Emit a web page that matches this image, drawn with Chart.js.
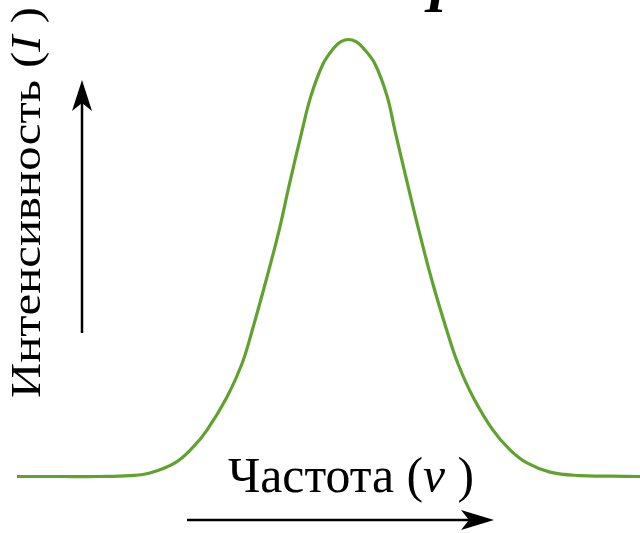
<!DOCTYPE html>
<html>
<head>
<meta charset="utf-8">
<script src="https://cdn.jsdelivr.net/npm/chart.js@4/dist/chart.umd.min.js"></script>
<style>
  html, body { margin: 0; padding: 0; background: #fff; }
  #wrap { width: 640px; height: 533px; position: relative; }
</style>
</head>
<body>
<div id="wrap"><canvas id="c"></canvas></div>
<script>
// Frequency (arbitrary units) and intensity (normalised)
const frequency = [2.66, 9.38, 15.63, 20.31, 23.44, 27.34, 30.16, 32.34, 35.47, 37.81, 39.38, 41.56, 43.59, 45.16, 47.19, 48.59, 50.47, 52.19, 53.28, 54.45, 55.63, 56.72, 58.59, 60.47, 61.72, 63.75, 65.47, 67.5, 69.84, 71.56, 73.91, 77.03, 79.69, 82.34, 85.94, 90.63, 95.31, 100];
const intensity = [0.0, 0.0, 0.0, 0.002, 0.008, 0.031, 0.067, 0.106, 0.182, 0.258, 0.333, 0.448, 0.562, 0.665, 0.791, 0.871, 0.944, 0.981, 0.995, 1.0, 0.995, 0.981, 0.944, 0.871, 0.791, 0.665, 0.562, 0.448, 0.333, 0.258, 0.182, 0.106, 0.061, 0.031, 0.010, 0.002, 0.001, 0.0];
const xLabel = ['Частота (', 'ν', ' )'];
const yLabel = ['Интенсивность (', 'I', ' )'];
const topGlyph = 'I';

const points = frequency.map((f, i) => ({ x: f, y: intensity[i] }));
const SERIF = '"Liberation Serif", "Times New Roman", "DejaVu Serif", serif';

const annotate = {
  id: 'annotate',
  afterDraw(chart) {
    const ctx = chart.ctx;
    ctx.save();
    ctx.fillStyle = '#000';
    ctx.strokeStyle = '#000';
    ctx.textBaseline = 'alphabetic';
    ctx.textAlign = 'left';

    function fontFor(i, size) {
      return (i === 1 ? 'italic ' : 'normal ') + size + 'px ' + SERIF;
    }
    function measure(pieces, size) {
      let w = 0;
      pieces.forEach((p, i) => { ctx.font = fontFor(i, size); w += ctx.measureText(p).width; });
      return w;
    }
    // draws pieces so that the whole string spans targetLen
    function drawPieces(pieces, size, x0, y0, targetLen) {
      const s = targetLen / measure(pieces, size);
      ctx.save();
      ctx.translate(x0, y0);
      ctx.scale(s, 1);
      let x = 0;
      pieces.forEach((p, i) => {
        ctx.font = fontFor(i, size);
        ctx.fillText(p, x, 0);
        x += ctx.measureText(p).width;
      });
      ctx.restore();
    }

    // x-axis label
    drawPieces(xLabel, 50, 228, 492, 246);

    // y-axis label (rotated)
    ctx.save();
    ctx.translate(39.5, 398);
    ctx.rotate(-Math.PI / 2);
    drawPieces(yLabel, 42, 0, 0, 391);
    ctx.restore();

    // top glyph (cut off)
    ctx.font = 'italic bold 56px ' + SERIF;
    ctx.fillText(topGlyph, 425, 12);

    // x arrow
    ctx.lineWidth = 2.5;
    ctx.beginPath();
    ctx.moveTo(187, 520);
    ctx.lineTo(485, 520);
    ctx.stroke();
    ctx.beginPath();
    ctx.moveTo(494, 520);
    ctx.lineTo(461, 510);
    ctx.lineTo(469, 520);
    ctx.lineTo(461, 530);
    ctx.closePath();
    ctx.fill();

    // y arrow
    ctx.beginPath();
    ctx.moveTo(82, 333);
    ctx.lineTo(82, 90);
    ctx.stroke();
    ctx.beginPath();
    ctx.moveTo(82, 80);
    ctx.lineTo(72, 111);
    ctx.lineTo(82, 103);
    ctx.lineTo(92, 111);
    ctx.closePath();
    ctx.fill();
    ctx.restore();
  }
};

new Chart(document.getElementById('c'), {
  type: 'line',
  data: {
    datasets: [{
      data: points,
      borderColor: '#61a22f',
      borderWidth: 3.2,
      pointRadius: 0,
      fill: false,
      tension: 0.4,
      clip: false
    }]
  },
  options: {
    responsive: true,
    maintainAspectRatio: false,
    animation: false,
    layout: { padding: 0 },
    plugins: { legend: { display: false }, tooltip: { enabled: false } },
    scales: {
      x: { type: 'linear', min: 0, max: 100, display: false },
      y: { type: 'linear', min: -0.1293, max: 1.0904, display: false }
    }
  },
  plugins: [annotate]
});
</script>
</body>
</html>
